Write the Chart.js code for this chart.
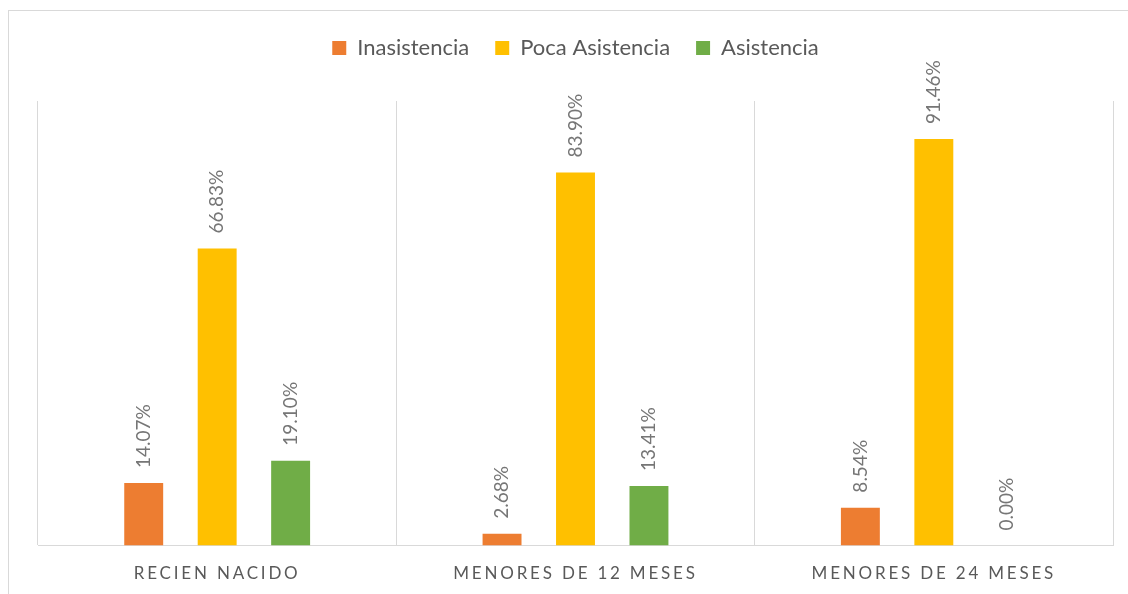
<!DOCTYPE html>
<html>
<head>
<meta charset="utf-8">
<script src="https://cdn.jsdelivr.net/npm/chart.js@4.4.1/dist/chart.umd.min.js"></script>
<style>
  html, body { margin: 0; padding: 0; background: #ffffff; overflow: hidden; }
  #wrap { position: relative; width: 1128px; height: 594px; }
  #frame { position: absolute; left: 8px; top: 10px; width: 2000px; height: 2000px;
           border-left: 1px solid #d9d9d9; border-top: 1px solid #d9d9d9; }
  canvas { position: absolute; left: 0; top: 0; }
</style>
</head>
<body>
<div id="wrap">
  <div id="frame"></div>
  <canvas id="c" width="1128" height="594"></canvas>
</div>
<script>
const categories = ['RECIEN NACIDO', 'MENORES DE 12 MESES', 'MENORES DE 24 MESES'];
const seriesNames = ['Inasistencia', 'Poca Asistencia', 'Asistencia'];
const inasistencia = [14.07, 2.68, 8.54];
const pocaAsistencia = [66.83, 83.90, 91.46];
const asistencia = [19.10, 13.41, 0.00];
const colors = ['#ED7D31', '#FFC000', '#70AD47'];

class SpacedCategory extends Chart.CategoryScale {
  drawLabels(chartArea) {
    const ctx = this.ctx;
    ctx.save();
    ctx.letterSpacing = '2.8px';
    super.drawLabels(chartArea);
    ctx.restore();
  }
}
SpacedCategory.id = 'spacedCategory';
SpacedCategory.defaults = Chart.CategoryScale.defaults;
Chart.register(SpacedCategory);

const valueLabels = {
  id: 'valueLabels',
  afterDatasetsDraw(chart) {
    const ctx = chart.ctx;
    ctx.save();
    ctx.fillStyle = '#767676';
    ctx.font = '19px Lato';
    ctx.textAlign = 'left';
    ctx.textBaseline = 'middle';
    chart.data.datasets.forEach((ds, di) => {
      const meta = chart.getDatasetMeta(di);
      meta.data.forEach((el, i) => {
        ctx.save();
        ctx.translate(el.x, el.y - 15);
        ctx.rotate(-Math.PI / 2);
        ctx.fillText(ds.data[i].toFixed(2) + '%', 0, 0);
        ctx.restore();
      });
    });
    ctx.restore();
  }
};

new Chart(document.getElementById('c'), {
  type: 'bar',
  data: {
    labels: categories,
    datasets: [
      { label: seriesNames[0], data: inasistencia, backgroundColor: colors[0] },
      { label: seriesNames[1], data: pocaAsistencia, backgroundColor: colors[1] },
      { label: seriesNames[2], data: asistencia, backgroundColor: colors[2] }
    ]
  },
  options: {
    responsive: false,
    animation: false,
    devicePixelRatio: 1,
    datasets: { bar: { categoryPercentage: 0.615, barPercentage: 0.53 } },
    layout: { padding: { left: 38, right: 15, top: 11, bottom: -8 } },
    plugins: {
      legend: {
        position: 'top',
        labels: {
          font: { family: 'Lato', size: 22 },
          color: '#595959',
          boxWidth: 14,
          boxHeight: 14,
          padding: 26
        }
      },
      subtitle: {
        display: true,
        text: '',
        weight: 500,
        font: { size: 10, lineHeight: 1 },
        padding: { top: 22, bottom: 0 }
      },
      tooltip: { enabled: false }
    },
    scales: {
      x: {
        type: 'spacedCategory',
        grid: { offset: true, color: '#d9d9d9', drawTicks: false, lineWidth: 1 },
        border: { display: true, color: '#d9d9d9' },
        ticks: { font: { family: 'Lato', size: 17 }, color: '#595959', padding: 18 }
      },
      y: { display: false, min: 0, max: 100 }
    }
  },
  plugins: [valueLabels]
});
</script>
</body>
</html>
